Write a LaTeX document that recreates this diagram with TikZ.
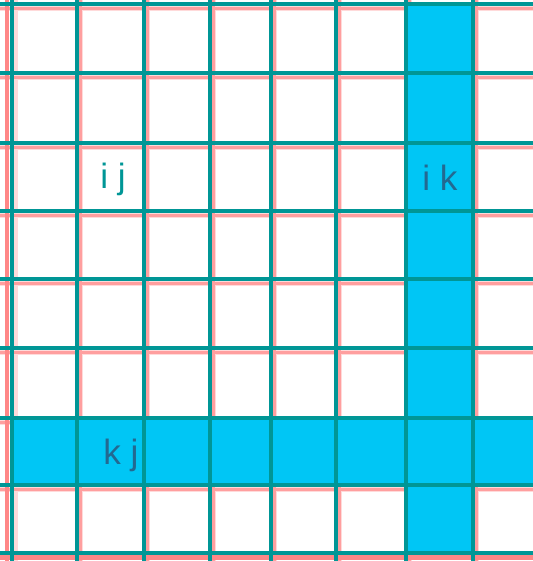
\documentclass[tikz,border=0pt]{standalone}
\usepackage{fontspec}
\setsansfont{Liberation Sans}
\usepackage{tikz}
\usetikzlibrary{positioning}
\definecolor{GridTeal}{RGB}{0,150,150}
\definecolor{GridPink}{RGB}{255,135,135}
\definecolor{PalePink}{RGB}{255,218,218}
\definecolor{CellBlue}{RGB}{0,198,245}
\definecolor{InkBlue}{RGB}{35,105,145}

\begin{document}
\begin{tikzpicture}[x=0.02cm,y=-0.02cm]
        \useasboundingbox (0,0) rectangle (533,561);
        \fill[white] (0,0) rectangle (533,561);
        % shadow lines
        \foreach \gx in {12,77,144,210,271,336,406,473}
          \draw[PalePink,line width=4.5pt] (\gx+2,0)--(\gx+2,561);
        \foreach \gy in {4,73,143,211,279,348,418,485,553}
          \draw[PalePink,line width=4.5pt] (0,\gy+3)--(533,\gy+3);
        \foreach \gx in {77,144,210,271,336,406,473}
          \draw[GridPink!80,line width=1.8pt] (\gx+3.5,0)--(\gx+3.5,561);
        \foreach \gy in {4,73,143,211,279,348,418,485}
          \draw[GridPink!80,line width=1.8pt] (0,\gy+4.5)--(533,\gy+4.5);
        \draw[GridPink,line width=2.5pt] (7,0)--(7,561);
        \draw[GridPink,line width=2.5pt] (0,557.5)--(533,557.5);
        % cells
        \fill[CellBlue] (406,4) rectangle (473,553);
        \fill[CellBlue] (12,418) rectangle (533,485);
        % grid
        \foreach \gx in {12,77,144,210,271,336,406,473}
          \draw[GridTeal,line width=2.1pt] (\gx,0)--(\gx,561);
        \foreach \gy in {4,73,143,211,279,348,418,485,553}
          \draw[GridTeal,line width=2.1pt] (0,\gy)--(533,\gy);
        \node[GridTeal,font=\sffamily\fontsize{20}{24}\selectfont] (lblij) at (113,179) {i j};
        \node[InkBlue,font=\sffamily\fontsize{20}{24}\selectfont] (lblik) at (440,178) {i k};
        \node[InkBlue,font=\sffamily\fontsize{20}{24}\selectfont] (lblkj) at (121,455) {k j};
      \end{tikzpicture}
\end{document}
